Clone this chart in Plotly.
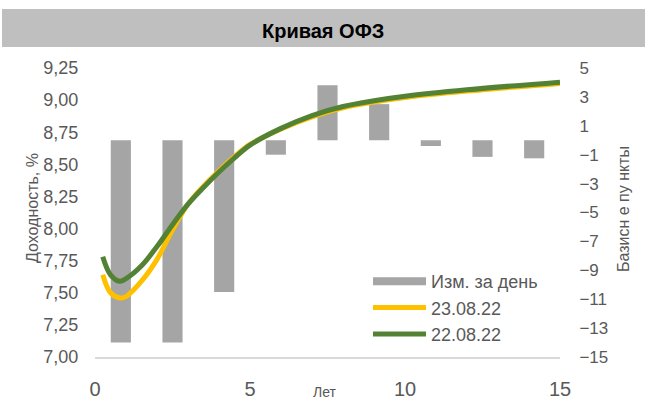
import plotly.graph_objects as go

# ---- data ----
bar_categories = ["1", "2", "3", "4", "5", "6", "7", "8", "9"]
bar_change_bp = [-14.0, -14.0, -10.5, -1.0, 3.8, 2.5, -0.4, -1.15, -1.25]

tenor_years = [0.25, 0.5, 0.8, 1.0, 1.5, 2.0, 2.5, 3.0, 3.5, 4.0, 4.5, 5.0, 6.0, 7.0, 8.0, 9.0, 10.0, 12.0, 15.0]
yield_2308 = [7.64, 7.50, 7.46, 7.47, 7.59, 7.76, 7.99, 8.19, 8.33, 8.45, 8.56, 8.655, 8.775, 8.87, 8.94, 8.985, 9.02, 9.07, 9.13]
yield_2208 = [7.78, 7.64, 7.59, 7.61, 7.71, 7.86, 8.03, 8.19, 8.32, 8.44, 8.55, 8.65, 8.78, 8.88, 8.95, 8.995, 9.03, 9.08, 9.14]

left_ticks = [7.0, 7.25, 7.5, 7.75, 8.0, 8.25, 8.5, 8.75, 9.0, 9.25]
x_ticks = [0, 5, 10, 15]

FONT = "Liberation Sans, Arial, sans-serif"
GREY_TXT = "#595959"
BAR_GREY = "#a5a5a5"

fig = go.Figure()

fig.add_trace(go.Bar(
    x=bar_categories, y=bar_change_bp, name="Изм. за день",
    marker=dict(color=BAR_GREY, line=dict(width=0)),
    width=0.39, xaxis="x", yaxis="y",
    legendgroup="bars", showlegend=False,
))
# legend entry for the bars (wide grey swatch, as in the original)
fig.add_trace(go.Scatter(
    x=[None], y=[None], name="Изм. за день", mode="lines",
    line=dict(color=BAR_GREY, width=8), legendgroup="bars",
    xaxis="x2", yaxis="y2", hoverinfo="skip",
))
fig.add_trace(go.Scatter(
    x=tenor_years, y=yield_2308, name="23.08.22", mode="lines",
    line=dict(color="#ffc000", width=5, shape="spline", smoothing=1.0),
    xaxis="x2", yaxis="y2",
))
fig.add_trace(go.Scatter(
    x=tenor_years, y=yield_2208, name="22.08.22", mode="lines",
    line=dict(color="#548235", width=5, shape="spline", smoothing=1.0),
    xaxis="x2", yaxis="y2",
))

L, R, T, B = 95, 85, 68, 45
W, H = 645, 402
pw, ph = W - L - R, H - T - B

def px_x(p):
    return (p - L) / pw

def px_y(p):
    return (H - B - p) / ph

fig.update_layout(
    width=W, height=H,
    margin=dict(l=L, r=R, t=T, b=B, pad=0, autoexpand=False),
    paper_bgcolor="white", plot_bgcolor="white",
    separators=", ",
    font=dict(family=FONT, color=GREY_TXT, size=18),
    xaxis=dict(type="category", range=[-0.5, 8.5], visible=False,
               fixedrange=True, automargin=False),
    yaxis=dict(side="right", range=[-15, 5], tick0=-15, dtick=2,
               showgrid=False, zeroline=False, showline=False, automargin=False,
               ticks="outside", ticklen=15, tickcolor="rgba(0,0,0,0)",
               tickfont=dict(size=17, color=GREY_TXT)),
    xaxis2=dict(overlaying="x", anchor="y2", side="bottom", range=[0, 15],
                tickvals=x_ticks, showgrid=False, zeroline=False, automargin=False,
                showline=True, linecolor="#d9d9d9", linewidth=1.5,
                ticks="outside", ticklen=13, tickcolor="rgba(0,0,0,0)",
                tickfont=dict(size=20, color=GREY_TXT)),
    yaxis2=dict(overlaying="y", side="left", range=[7.0, 9.25],
                tickvals=left_ticks, tickformat=".2f", automargin=False,
                showgrid=False, zeroline=False, showline=False,
                ticks="outside", ticklen=12, tickcolor="rgba(0,0,0,0)",
                tickfont=dict(size=18, color=GREY_TXT)),
    legend=dict(x=px_x(368), y=px_y(263), xanchor="left", yanchor="top",
                bgcolor="rgba(0,0,0,0)", font=dict(size=18, color=GREY_TXT),
                tracegroupgap=0, itemwidth=53),
    showlegend=True,
    shapes=[dict(type="rect", xref="paper", yref="paper",
                 x0=px_x(2), x1=px_x(645), y0=px_y(47), y1=px_y(9),
                 fillcolor="#bfbfbf", line=dict(width=0), layer="below")],
    annotations=[
        dict(text="<b>Кривая ОФЗ</b>", xref="paper", yref="paper",
             x=px_x(323), y=px_y(31), showarrow=False,
             font=dict(size=20, color="#000000", family=FONT),
             xanchor="center", yanchor="middle"),
        dict(text="Доходность, %", xref="paper", yref="paper",
             x=px_x(32), y=px_y(208), showarrow=False, textangle=-90,
             font=dict(size=16, color=GREY_TXT), xanchor="center", yanchor="middle"),
        dict(text="Базисн е пу нкты", xref="paper", yref="paper",
             x=px_x(623), y=px_y(209), showarrow=False, textangle=-90,
             font=dict(size=16, color=GREY_TXT), xanchor="center", yanchor="middle"),
        dict(text="Лет", xref="paper", yref="paper",
             x=px_x(325), y=px_y(392), showarrow=False,
             font=dict(size=14, color=GREY_TXT), xanchor="center", yanchor="middle"),
    ],
)

fig.write_html(
    "out.html",
    config={"displayModeBar": False},
    post_script="document.body.style.margin='0';document.body.style.padding='0';"
                "document.body.style.overflow='hidden';",
)
